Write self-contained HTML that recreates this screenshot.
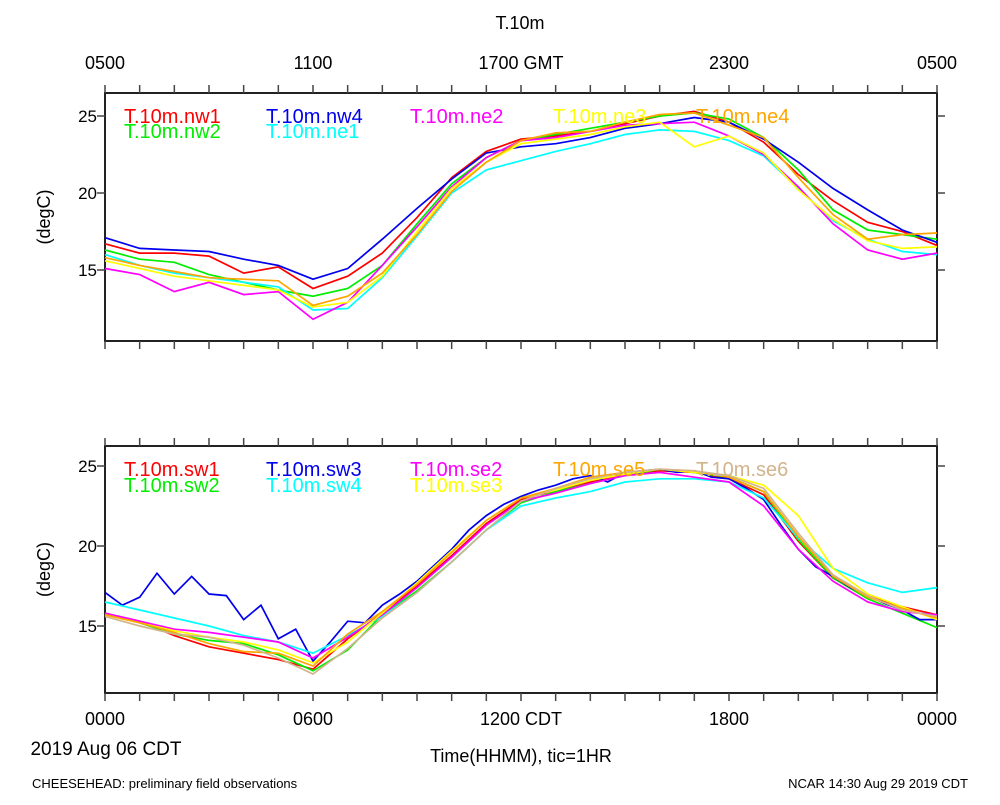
<!DOCTYPE html>
<html><head><meta charset="utf-8"><style>
body{margin:0;background:#fff;}
svg{font-family:"Liberation Sans",sans-serif;}
</style></head><body>
<svg id="chart" width="1000" height="800">
<text x="520" y="29" font-size="18" text-anchor="middle">T.10m</text>
<g id="topAxis"></g>
<g id="p1"></g>
<g id="p2"></g>
<g id="botAxis"></g>
<text x="106" y="755" font-size="19" text-anchor="middle">2019 Aug 06 CDT</text>
<text x="521" y="762" font-size="18" text-anchor="middle">Time(HHMM), tic=1HR</text>
<text x="32" y="788" font-size="13">CHEESEHEAD: preliminary field observations</text>
<text x="968" y="788" font-size="13" text-anchor="end">NCAR 14:30 Aug 29 2019 CDT</text>
</svg>
<script>
const topTicks = ["0500","1100","1700 GMT","2300","0500"];
const botTicks = ["0000","0600","1200 CDT","1800","0000"];
const yTicks = [15,20,25];
const names1 = ["T.10m.nw1","T.10m.nw2","T.10m.nw4","T.10m.ne1","T.10m.ne2","T.10m.ne3","T.10m.ne4"];
const names2 = ["T.10m.sw1","T.10m.sw2","T.10m.sw3","T.10m.sw4","T.10m.se2","T.10m.se3","T.10m.se5","T.10m.se6"];
const nw1 = [16.7,16.1,16.1,15.9,14.8,15.2,13.8,14.6,16.1,18.4,21.0,22.7,23.5,23.7,24.0,24.5,25.0,25.3,24.6,23.3,21.2,19.5,18.1,17.5,16.6];
const nw2 = [16.3,15.7,15.5,14.7,14.2,13.7,13.3,13.8,15.3,18.0,20.6,22.3,23.4,23.8,24.2,24.6,25.0,25.2,24.8,23.6,21.5,18.9,17.6,17.3,17.0];
const nw4 = [17.1,16.4,16.3,16.2,15.7,15.3,14.4,15.1,17.0,19.0,20.9,22.6,23.0,23.2,23.6,24.2,24.5,24.9,24.6,23.5,22.0,20.3,18.9,17.6,16.8];
const ne1 = [16.0,15.3,14.8,14.5,14.2,13.9,12.4,12.5,14.5,17.2,20.0,21.5,22.1,22.7,23.2,23.8,24.1,24.0,23.4,22.4,20.3,18.2,17.0,16.2,16.0];
const ne2 = [15.1,14.7,13.6,14.2,13.4,13.6,11.8,12.9,15.3,17.8,20.4,22.3,23.4,23.6,24.0,24.4,24.5,24.6,23.7,22.5,20.4,18.0,16.3,15.7,16.1];
const ne3 = [15.6,15.1,14.6,14.3,14.0,13.7,12.6,12.9,14.6,17.5,20.3,22.0,23.2,23.5,23.8,24.3,24.6,23.0,23.7,22.6,20.2,18.3,16.9,16.4,16.5];
const ne4 = [15.8,15.3,14.9,14.5,14.4,14.3,12.7,13.3,14.8,17.3,20.1,22.0,23.4,23.9,24.0,24.6,25.1,25.2,24.4,23.6,21.0,18.6,17.0,17.3,17.4];
const sw1 = [15.8,15.3,14.4,13.7,13.3,12.9,12.3,14.2,15.8,17.5,19.4,21.4,22.9,23.5,24.0,24.5,24.7,24.6,24.2,23.2,20.3,18.0,16.9,16.2,15.7];
const sw2 = [15.8,15.2,14.5,14.1,13.9,13.2,12.2,13.5,15.7,17.2,19.0,21.0,22.7,23.4,23.9,24.4,24.8,24.6,24.3,23.4,20.4,18.0,16.7,15.8,14.9];
const sw3 = [17.1,16.3,16.8,18.3,17.0,18.1,17.0,16.9,15.4,16.3,14.2,14.8,12.8,14.0,15.3,15.2,16.3,17.0,17.8,18.8,19.8,21.0,21.9,22.6,23.1,23.5,23.8,24.2,24.4,24.0,24.6,24.7,24.8,24.6,24.7,24.3,24.2,23.6,22.9,21.3,19.8,18.7,18.1,17.4,16.9,16.4,16.0,15.4,15.4];
const sw4 = [16.5,16.0,15.5,15.0,14.4,14.0,13.3,14.4,15.6,17.1,19.0,21.0,22.5,23.0,23.4,24.0,24.2,24.2,24.0,23.0,20.5,18.6,17.7,17.1,17.4];
const se2 = [15.8,15.3,14.8,14.6,14.3,14.0,13.0,14.3,15.7,17.4,19.3,21.3,22.8,23.3,23.9,24.4,24.6,24.3,24.0,22.5,19.8,17.8,16.5,15.9,15.7];
const se3 = [15.7,15.2,14.7,14.3,14.0,13.5,12.7,14.0,15.8,17.7,19.7,21.6,23.0,23.5,24.1,24.5,24.8,24.6,24.4,23.8,21.9,18.6,17.0,16.2,15.4];
const se5 = [15.7,15.2,14.6,13.9,13.4,13.3,12.5,14.5,15.9,17.6,19.6,21.6,23.0,23.6,24.3,24.6,24.8,24.7,24.3,23.4,20.6,18.1,16.8,16.1,15.5];
const se6 = [15.6,15.0,14.5,14.3,13.8,13.0,12.0,13.6,15.5,17.1,19.0,21.0,22.8,23.6,24.2,24.6,24.8,24.7,24.4,23.6,20.8,18.2,16.9,16.0,15.6];

const NS="http://www.w3.org/2000/svg";
const X0=105,X1=937;
function xs(h){return X0+(X1-X0)*h/24;}
function mk(tag,attrs,parent){const e=document.createElementNS(NS,tag);for(const k in attrs)e.setAttribute(k,attrs[k]);parent.appendChild(e);return e;}

function panel(g,top,bot,y25,pxPerDeg,series,names,colors,legRows){
  const ys=v=>y25+(25-v)*pxPerDeg;
  const fr=mk('rect',{x:X0,y:top,width:X1-X0,height:bot-top,fill:'none',stroke:'#222','stroke-width':2},g);
  
  
  for(let h=0;h<=24;h++){
    const x=xs(h);
    const t1=mk('line',{x1:x,x2:x,y1:top-8,y2:top,stroke:'#444','stroke-width':1.5},g);
    
    
    const t2=mk('line',{x1:x,x2:x,y1:bot,y2:bot+8,stroke:'#444','stroke-width':1.5},g);
    
    
  }
  yTicks.forEach(v=>{
    const y=ys(v);
    const a=mk('line',{x1:X0-8,x2:X0,y1:y,y2:y,stroke:'#444','stroke-width':1.5},g);
    
    
    const b=mk('line',{x1:X1,x2:X1+8,y1:y,y2:y,stroke:'#444','stroke-width':1.5},g);
    
    
    const t=mk('text',{x:97,y:y+6,'font-size':17,'text-anchor':'end'},g);
    t.textContent=v;
    
    
  });
  const yl=mk('text',{x:0,y:0,'font-size':18,'text-anchor':'middle',transform:`translate(50,${(top+bot)/2}) rotate(-90)`},g);
  yl.textContent='(degC)';
  
  
  series.forEach((d,i)=>{
    const n=d.length;
    const pts=d.map((v,j)=>xs(24*j/(n-1)).toFixed(1)+','+ys(v).toFixed(1)).join(' ');
    const p=mk('polyline',{points:pts,fill:'none',stroke:colors[i],'stroke-width':1.7},g);
    
    
  });
  const colsX=[124,266,410,553,696];
  legRows.forEach((pos,i)=>{
    const t=mk('text',{x:colsX[pos[0]],y:pos[1],'font-size':20,fill:colors[i]},g);
    t.textContent=names[i];
    
    
  });
}
panel(document.getElementById('p1'),93,341,116,77/5,[nw1,nw2,nw4,ne1,ne2,ne3,ne4],names1,
  ['#ff0000','#00ee00','#0000ee','#00ffff','#ff00ff','#ffff00','#ffa500'],
  [[0,123],[0,138],[1,123],[1,138],[2,123],[3,123],[4,123]]);
panel(document.getElementById('p2'),446,693,466,80/5,[sw1,sw2,sw3,sw4,se2,se3,se5,se6],names2,
  ['#ff0000','#00ee00','#0000ee','#00ffff','#ff00ff','#ffff00','#ffa500','#d2b48c'],
  [[0,476],[0,492],[1,476],[1,492],[2,476],[2,492],[3,476],[4,476]]);
const ta=document.getElementById('topAxis'), ba=document.getElementById('botAxis');
topTicks.forEach((s,i)=>{
  const t=mk('text',{x:xs(i*6),y:69,'font-size':18,'text-anchor':'middle'},ta);
  t.textContent=s;
  
  
});
botTicks.forEach((s,i)=>{
  const t=mk('text',{x:xs(i*6),y:725,'font-size':18,'text-anchor':'middle'},ba);
  t.textContent=s;
  
  
});
</script>
</body></html>
